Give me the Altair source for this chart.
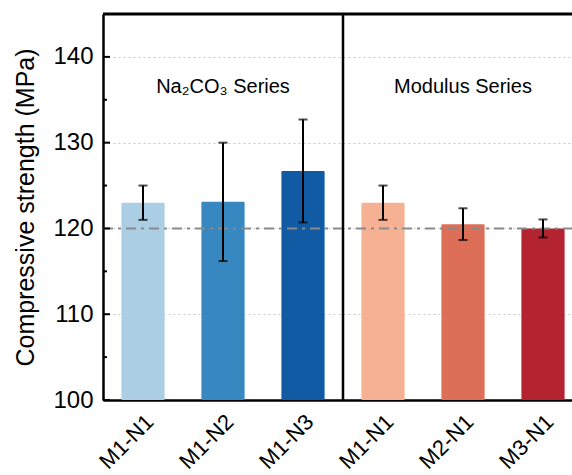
import altair as alt
import pandas as pd

# Sample groups, names, mean compressive strength and standard deviation
groups = ["Na2CO3", "Na2CO3", "Na2CO3", "Modulus", "Modulus", "Modulus"]
samples = ["M1-N1", "M1-N2", "M1-N3", "M1-N1", "M2-N1", "M3-N1"]
strength = [123.0, 123.1, 126.7, 123.0, 120.5, 120.0]
std_dev = [2.0, 6.9, 6.0, 2.0, 1.85, 1.05]
bar_colors = ["#abcee4", "#3787c0", "#105ba4", "#f6b093", "#dd6f58", "#b42330"]

series_titles = ["Na\u2082CO\u2083 Series", "Modulus Series"]
series_center = ["Na2CO3|M1-N2", "Modulus|M2-N1"]

reference_level = 120
y_domain = [100, 145]
major_ticks = [100, 110, 120, 130, 140]
minor_ticks = [105, 115, 125, 135]

# The band layout spans 480 px; the visible drawing area is cut at 469 px
BAND_SPAN, PLOT_W, PLOT_H = 480, 469, 386
FONT = "Liberation Sans"

keys = [f"{g}|{s}" for g, s in zip(groups, samples)]
df = pd.DataFrame({"key": keys, "strength": strength, "sd": std_dev, "color": bar_colors})

x_scale = alt.Scale(range=[0, BAND_SPAN], paddingInner=0.46, paddingOuter=0.23)
y_scale = alt.Scale(domain=y_domain, nice=False, zero=False)

x_enc = alt.X(
    "key:N",
    sort=keys,
    scale=x_scale,
    axis=alt.Axis(
        title=None,
        labelExpr="split(datum.label, '|')[1]",
        labelAngle=-45,
        labelAlign="right",
        labelBaseline="middle",
        labelFontSize=22,
        labelFont=FONT,
        labelColor="black",
        labelPadding=18,
        labelOffset=7,
        ticks=False,
        domain=True,
        domainColor="black",
        domainWidth=2.5,
    ),
)

base = alt.Chart(df)

bars = base.mark_bar(cornerRadius=1).encode(
    x=x_enc,
    y=alt.Y(
        "strength:Q",
        scale=y_scale,
        axis=alt.Axis(
            title="Compressive strength (MPa)",
            titleFont=FONT,
            titleFontSize=25,
            titleFontWeight="normal",
            titleColor="black",
            titlePadding=14,
            values=major_ticks,
            labelFont=FONT,
            labelFontSize=24,
            labelColor="black",
            labelPadding=10,
            ticks=False,
            domain=True,
            domainColor="black",
            domainWidth=2.5,
            grid=True,
            gridColor="#c8c8c8",
            gridDash=[2, 3],
            gridWidth=1,
        ),
    ),
    y2=alt.datum(y_domain[0]),
    color=alt.Color("color:N", scale=None),
)

ref_line = alt.Chart(pd.DataFrame({"level": [reference_level]})).mark_rule(
    color="#8a8a8a", strokeWidth=2, strokeDash=[10, 5, 3, 5]
).encode(
    y=alt.Y("level:Q", scale=y_scale),
    x=alt.value(0),
    x2=alt.value(PLOT_W),
)

err = base.transform_calculate(
    lo="datum.strength - datum.sd", hi="datum.strength + datum.sd"
)
err_rule = err.mark_rule(color="black", strokeWidth=2).encode(
    x=alt.X("key:N", sort=keys, scale=x_scale), y=alt.Y("lo:Q", scale=y_scale), y2="hi:Q"
)
cap_lo = err.mark_tick(color="black", thickness=2, size=9, orient="horizontal").encode(
    x=alt.X("key:N", sort=keys, scale=x_scale), y=alt.Y("lo:Q", scale=y_scale)
)
cap_hi = err.mark_tick(color="black", thickness=2, size=9, orient="horizontal").encode(
    x=alt.X("key:N", sort=keys, scale=x_scale), y=alt.Y("hi:Q", scale=y_scale)
)

# Separator between the two series, half way across the band layout
separator = alt.Chart(pd.DataFrame({"s": [0]})).mark_rule(
    color="black", strokeWidth=2.5
).encode(x=alt.value(BAND_SPAN / 2), y=alt.value(0), y2=alt.value(PLOT_H))

# Top frame line
top_line = alt.Chart(pd.DataFrame({"s": [0]})).mark_rule(
    color="black", strokeWidth=3
).encode(y=alt.value(0), x=alt.value(0), x2=alt.value(PLOT_W))

series_labels = alt.Chart(
    pd.DataFrame({"key": series_center, "title": series_titles})
).mark_text(font=FONT, fontSize=20, color="black", baseline="middle").encode(
    x=alt.X("key:N", sort=keys, scale=x_scale), y=alt.value(73), text="title:N"
)

# Inward tick marks on the left axis
major_tk = alt.Chart(pd.DataFrame({"v": major_ticks})).mark_rule(
    color="black", strokeWidth=2
).encode(y=alt.Y("v:Q", scale=y_scale), x=alt.value(0), x2=alt.value(7))
minor_tk = alt.Chart(pd.DataFrame({"v": minor_ticks})).mark_rule(
    color="black", strokeWidth=2
).encode(y=alt.Y("v:Q", scale=y_scale), x=alt.value(0), x2=alt.value(4))

chart = (
    alt.layer(
        bars, ref_line, err_rule, cap_lo, cap_hi, separator, top_line,
        series_labels, major_tk, minor_tk,
    )
    .properties(
        width=PLOT_W,
        height=PLOT_H,
        autosize=alt.AutoSizeParams(type="none"),
        padding={"left": 103, "top": 14, "right": 0, "bottom": 75},
        background="white",
    )
    .configure_view(stroke=None)
)

chart.save("out.html", embed_options={"renderer": "svg", "actions": False})
